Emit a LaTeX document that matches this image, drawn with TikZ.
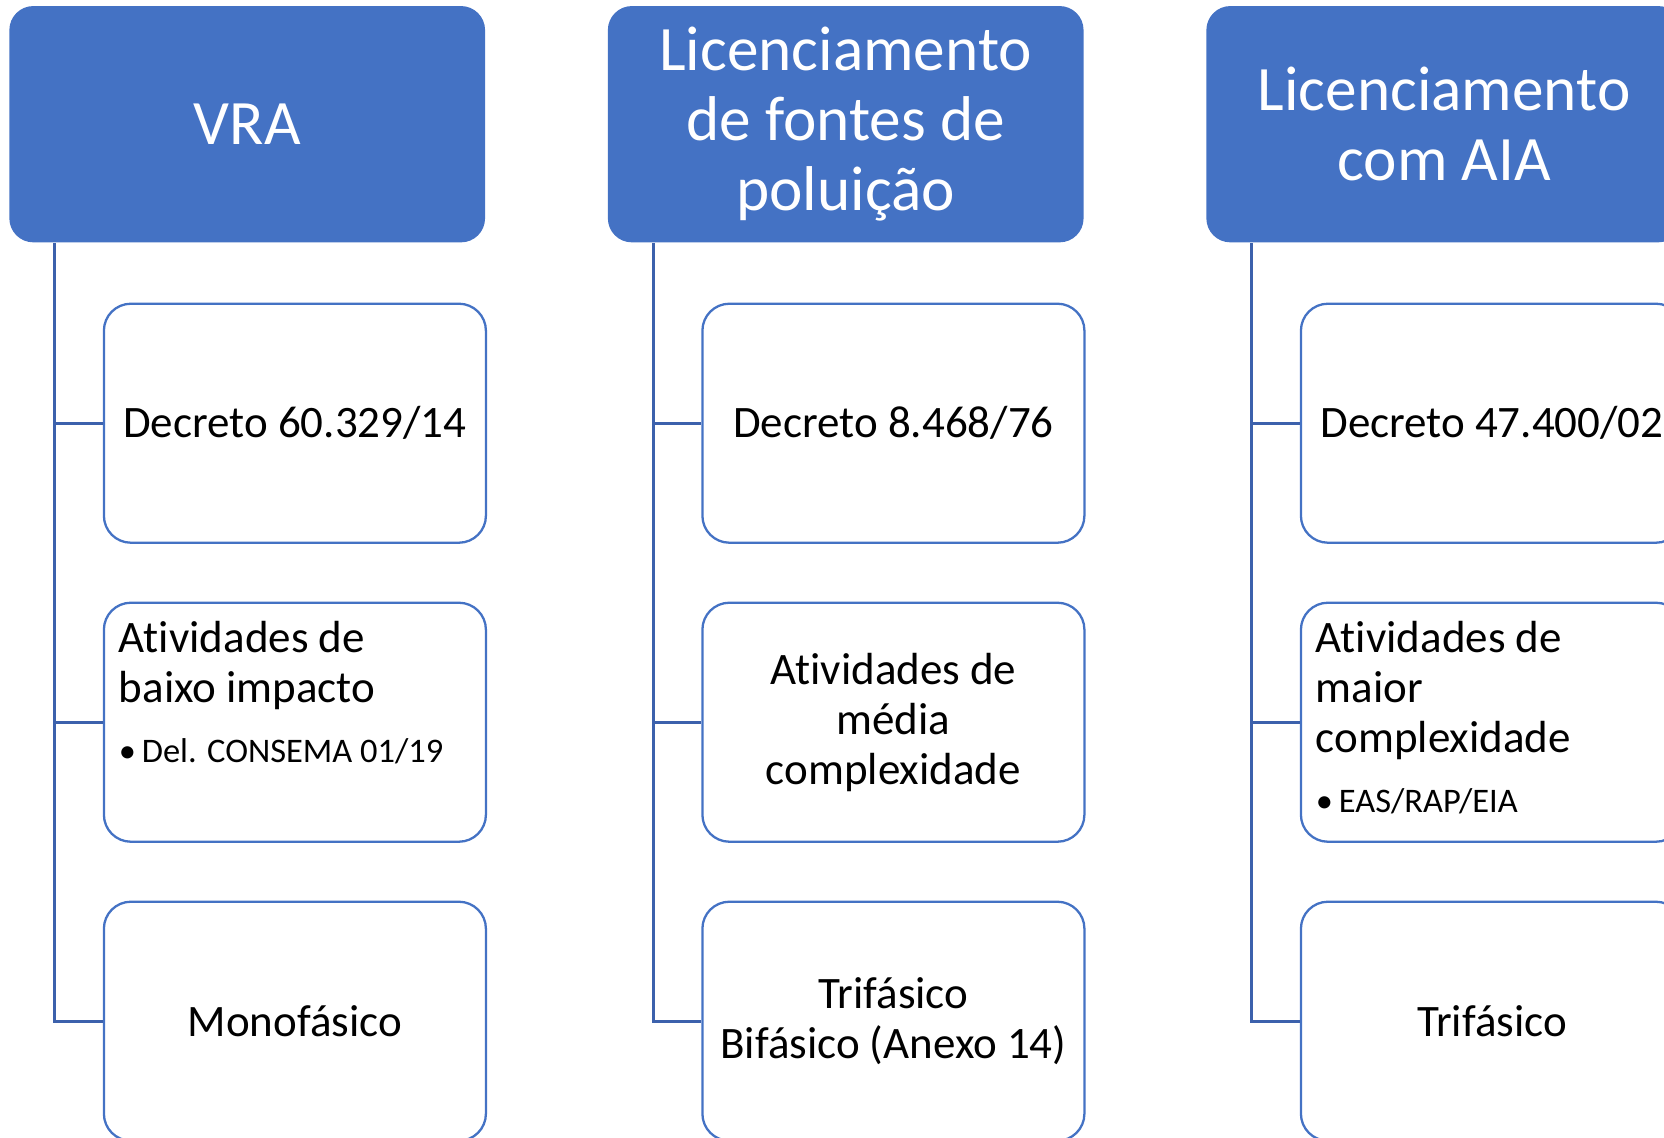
\documentclass[tikz,border=0pt]{standalone}
\usepackage{fontspec}
\setmainfont{Carlito}[Ligatures=NoCommon]
\usetikzlibrary{positioning}
\definecolor{boxblue}{RGB}{68,114,196}
\definecolor{lineblue}{RGB}{60,97,172}

\begin{document}
\begin{tikzpicture}[-,node distance=2.99cm,
    top node/.style={rectangle,rounded corners=0.24cm,fill=boxblue,text=white,minimum width=4.757cm,minimum height=2.363cm,align=center,font=\fontsize{18}{19.9}\selectfont},
    sub node/.style={rectangle,rounded corners=0.27cm,draw=boxblue,line width=0.65pt,fill=white,minimum width=3.82cm,minimum height=2.39cm,align=center,font=\fontsize{12.8}{14.2}\selectfont},
    list node/.style={sub node,align=flush left,text width=3.52cm,inner xsep=0.15cm,inner ysep=0pt,text height=0.499cm,text depth=1.891cm},
    link/.style={draw=lineblue,line width=0.85pt,to path={|- (\tikztotarget)}}]

                    \useasboundingbox (0,0) rectangle (16.64,-11.37);
                    \clip (0,0) rectangle (16.64,-11.37);

                    \node[top node] (1) at (2.472,-1.242) {VRA};
                    \node[top node] (2) [right of=1, node distance=5.985cm] {Licenciamento\\de fontes de\\poluição};
                    \node[top node] (3) [right of=2, node distance=5.985cm] {Licenciamento\\com AIA};

                    \node[sub node] (1a) [below of=1, xshift=0.477cm] {Decreto 60.329/14};
                    \node[list node] (1b) [below of=1a] {Atividades de\\baixo impacto\\[2.9pt]{\fontsize{9.8}{10.8}\selectfont\makebox[0.23cm][l]{•}Del. CONSEMA 01/19}};
                    \node[sub node] (1c) [below of=1b] {Monofásico};

                    \node[sub node] (2a) [below of=2, xshift=0.477cm] {Decreto 8.468/76};
                    \node[sub node] (2b) [below of=2a] {Atividades de\\média\\complexidade};
                    \node[sub node] (2c) [below of=2b] {Trifásico\\Bifásico (Anexo 14)};

                    \node[sub node] (3a) [below of=3, xshift=0.477cm] {Decreto 47.400/02};
                    \node[list node] (3b) [below of=3a] {Atividades de\\maior\\complexidade\\[2.9pt]{\fontsize{9.8}{10.8}\selectfont\makebox[0.23cm][l]{•}EAS/RAP/EIA}};
                    \node[sub node] (3c) [below of=3b] {Trifásico};

                    \coordinate (1t) at ([xshift=0.462cm]1.south west);
                    \coordinate (2t) at ([xshift=0.462cm]2.south west);
                    \coordinate (3t) at ([xshift=0.462cm]3.south west);

                    \path
                        (1t) edge[link] (1a.west)
                        (1t) edge[link] (1b.west)
                        (1t) edge[link] (1c.west)
                        (2t) edge[link] (2a.west)
                        (2t) edge[link] (2b.west)
                        (2t) edge[link] (2c.west)
                        (3t) edge[link] (3a.west)
                        (3t) edge[link] (3b.west)
                        (3t) edge[link] (3c.west)
                        ;
                \end{tikzpicture}
\end{document}
